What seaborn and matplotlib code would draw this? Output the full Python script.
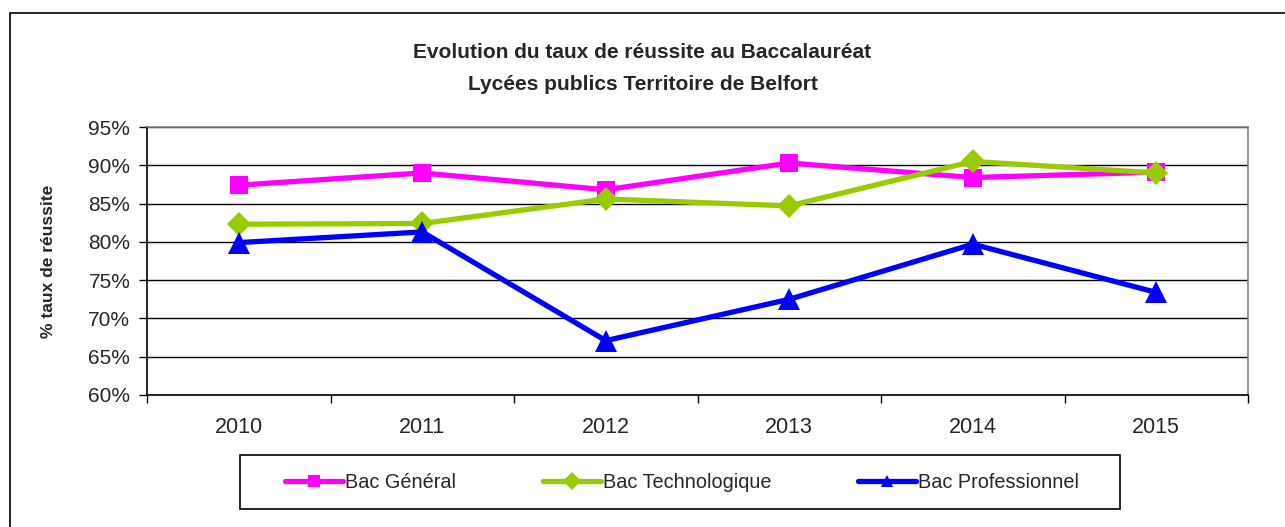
import pandas as pd
import seaborn as sns
import matplotlib.pyplot as plt
from matplotlib.patches import Rectangle

years = ['2010', '2011', '2012', '2013', '2014', '2015']
series_names = ['Bac Général', 'Bac Technologique', 'Bac Professionnel']
bac_general = [87.4, 89.0, 86.8, 90.3, 88.4, 89.1]
bac_techno = [82.3, 82.4, 85.6, 84.7, 90.5, 89.0]
bac_pro = [79.9, 81.3, 67.1, 72.5, 79.7, 73.4]
y_ticks = [60, 65, 70, 75, 80, 85, 90, 95]

colors = {'Bac Général': '#FF00FF', 'Bac Technologique': '#99CC00', 'Bac Professionnel': '#0000FF'}
markers = {'Bac Général': 's', 'Bac Technologique': 'D', 'Bac Professionnel': '^'}
marker_sizes = {'s': 13.5, 'D': 12.5, '^': 15.5}

rows = []
for name, vals in zip(series_names, [bac_general, bac_techno, bac_pro]):
    for i, v in enumerate(vals):
        rows.append({'pos': i, 'Année': years[i], 'Série': name, 'Taux': v})
df = pd.DataFrame(rows)

sns.set_style('white')
plt.rcParams['font.family'] = ['Liberation Sans', 'DejaVu Sans']

W, H = 1285, 527
fig = plt.figure(figsize=(W / 100, H / 100), dpi=100)
ax = fig.add_axes([147 / W, 1 - 395 / H, (1248 - 147) / W, (395 - 127) / H])

sns.lineplot(
    data=df, x='pos', y='Taux', hue='Série', style='Série',
    palette=colors, markers=markers, dashes=False,
    linewidth=3.8, markersize=13, markeredgewidth=0, ax=ax
)
for line in ax.lines:
    m = line.get_marker()
    if m in marker_sizes:
        line.set_markersize(marker_sizes[m])

ax.set_xlim(-0.5, 5.5)
ax.set_ylim(60, 95)
ax.set_yticks(y_ticks)
ax.set_yticklabels([f'{t}%' for t in y_ticks], fontsize=15)
ax.set_xticks(range(len(years)))
ax.set_xticklabels(years, fontsize=15.5)
ax.set_xticks([i - 0.5 for i in range(len(years) + 1)], minor=True)
ax.tick_params(axis='x', which='major', length=0, pad=16)
ax.tick_params(axis='x', which='minor', length=6, width=1, color='black', direction='out', bottom=True)
ax.tick_params(axis='y', length=6, width=1, color='black', direction='out', left=True, pad=6)
ax.yaxis.grid(True, color='black', linewidth=1)
ax.set_axisbelow(True)
ax.set_xlabel('')
ax.set_ylabel('% taux de réussite', fontsize=12.5, fontweight='bold')
ax.yaxis.set_label_coords((56 - 147) / 1101, 0.5)

for side in ['left', 'bottom']:
    ax.spines[side].set_color('black')
    ax.spines[side].set_linewidth(1.2)
for side in ['top', 'right']:
    ax.spines[side].set_color('#808080')
    ax.spines[side].set_linewidth(1.2)

# legend without frame, box drawn separately
handles, labels = ax.get_legend_handles_labels()
leg = ax.legend(
    handles, labels, loc='center', bbox_to_anchor=(682 / W, 1 - 482 / H),
    bbox_transform=fig.transFigure, ncol=3, frameon=False, fontsize=14.3,
    handlelength=2.9, handletextpad=0.1, columnspacing=4.4, borderpad=0
)
for h in leg.legend_handles:
    h.set_markersize(9)
fig.patches.append(Rectangle((240 / W, 1 - 509 / H), 880 / W, 54 / H,
                             transform=fig.transFigure, fill=False, edgecolor='black', linewidth=1.2))

fig.text(0.5, 1 - 52 / H, 'Evolution du taux de réussite au Baccalauréat',
         ha='center', va='center', fontsize=15, fontweight='bold')
fig.text(0.5, 1 - 85 / H, 'Lycées publics Territoire de Belfort',
         ha='center', va='center', fontsize=15, fontweight='bold')

fig.patches.append(Rectangle((10 / W, -0.05), 1.1, 1 - 13 / H + 0.05,
                             transform=fig.transFigure, fill=False, edgecolor='black', linewidth=1.2))

fig.savefig('out.png', dpi=100)
